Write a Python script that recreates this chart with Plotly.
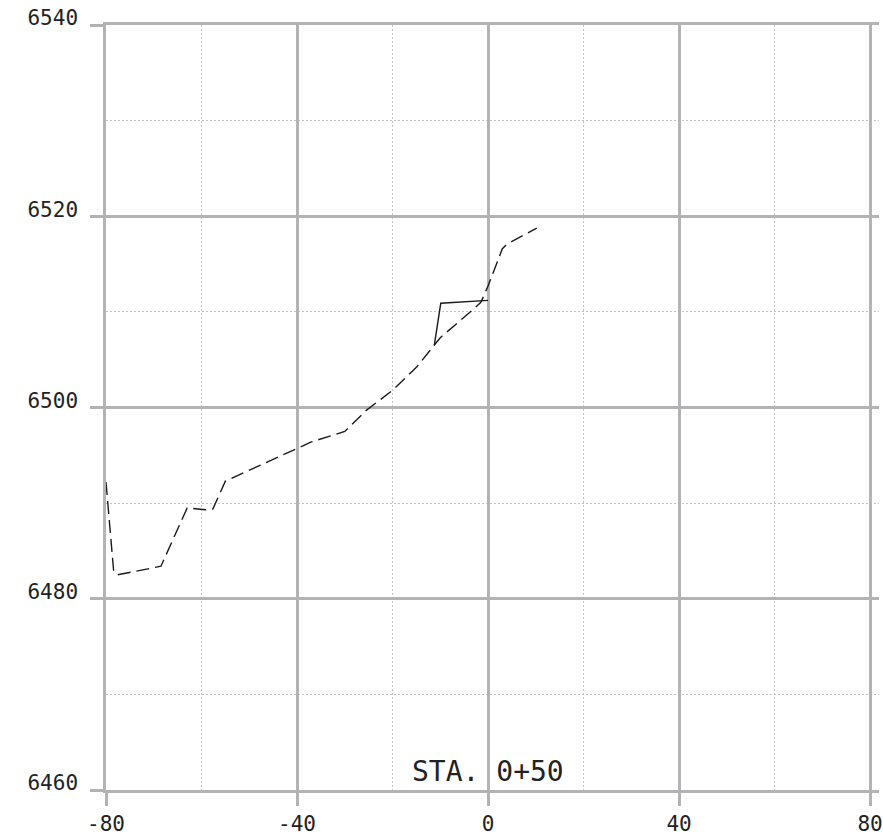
import plotly.graph_objects as go

# Ground (existing) profile - dashed
ground_x = [-80, -78.4, -77.6, -68.5, -63, -59.2, -57.6, -55, -37, -30, -25.5, -20, -15, -10, -3, -1.5, 0, 3, 4, 10.2]
ground_y = [6492.2, 6482.9, 6482.5, 6483.4, 6489.5, 6489.3, 6489.4, 6492.3, 6496.4, 6497.5, 6499.7, 6501.8, 6504.2, 6507.3, 6510.3, 6511.0, 6512.7, 6516.6, 6517.1, 6518.75]

# Design profile - solid
design_x = [-11.25, -9.9, 0.0]
design_y = [6506.5, 6510.9, 6511.2]

x_ticks = [-80, -40, 0, 40, 80]
y_ticks = [6460, 6480, 6500, 6520, 6540]
station_label = "STA. 0+50"

GRID = "#b3b3b6"
MINOR = "#c2c2c2"
TXT = "#222222"
FONT = "DejaVu Sans Mono"

fig = go.Figure()
fig.add_trace(go.Scatter(x=ground_x, y=ground_y, mode="lines",
                         line=dict(color="#1a1a1a", width=1.4, dash="13px,6px"),
                         showlegend=False, hoverinfo="skip"))
fig.add_trace(go.Scatter(x=design_x, y=design_y, mode="lines",
                         line=dict(color="#1a1a1a", width=1.4),
                         showlegend=False, hoverinfo="skip"))

fig.add_annotation(x=0, y=6461.98, text=station_label, showarrow=False,
                   xanchor="center", yanchor="middle",
                   font=dict(family=FONT, size=28, color=TXT))

fig.update_xaxes(range=[-80, 81.875], tickmode="array", tickvals=x_ticks,
                 ticktext=[str(v) for v in x_ticks],
                 showgrid=True, gridcolor=GRID, gridwidth=2.5,
                 ticks="outside", ticklen=13, tickwidth=2.5, tickcolor=GRID,
                 minor=dict(dtick=20, tick0=-60, showgrid=True, gridcolor=MINOR,
                            gridwidth=1, griddash="2px,2px", ticks=""),
                 zeroline=False, showline=True, linecolor=GRID, linewidth=2.5,
                 mirror=True, ticklabeloverflow="allow",
                 tickfont=dict(family=FONT, size=21, color=TXT),
                 ticklabelstandoff=0)
fig.update_yaxes(range=[6460, 6540], tickmode="array", tickvals=y_ticks,
                 ticktext=[str(v) for v in y_ticks],
                 showgrid=True, gridcolor=GRID, gridwidth=2.5,
                 ticks="outside", ticklen=13, tickwidth=2.5, tickcolor=GRID,
                 minor=dict(dtick=10, tick0=6470, showgrid=True, gridcolor=MINOR,
                            gridwidth=1, griddash="2px,2px", ticks=""),
                 zeroline=False, showline=True, linecolor=GRID, linewidth=2.5,
                 tickfont=dict(family=FONT, size=21, color=TXT),
                 ticklabelstandoff=8, ticklabelshift=-7)

fig.update_layout(width=883, height=836,
                  margin=dict(l=106, r=0, t=25, b=43),
                  paper_bgcolor="white", plot_bgcolor="white")

fig.write_html("out.html", post_script="document.body.style.margin='0';",
               config={"displayModeBar": False})
